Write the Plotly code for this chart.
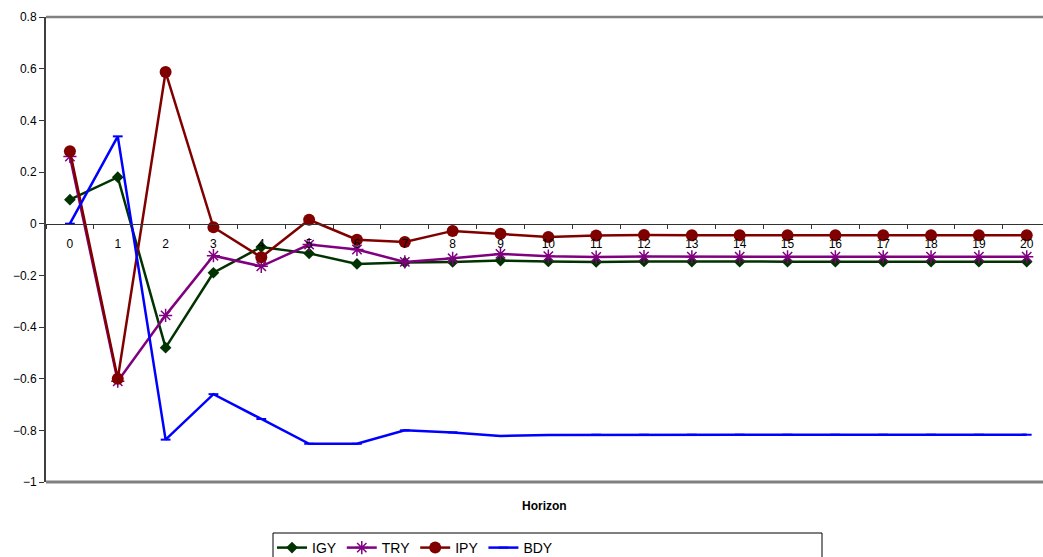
import plotly.graph_objects as go

horizon = [str(i) for i in range(21)]
igy = [0.093, 0.18, -0.48, -0.19, -0.09, -0.115, -0.156, -0.15, -0.148, -0.143, -0.146,
       -0.148, -0.146, -0.147, -0.147, -0.147, -0.147, -0.147, -0.147, -0.147, -0.147]
try_ = [0.26, -0.61, -0.355, -0.124, -0.165, -0.081, -0.10, -0.148, -0.134, -0.117, -0.126,
        -0.129, -0.127, -0.128, -0.128, -0.128, -0.128, -0.128, -0.128, -0.128, -0.128]
ipy = [0.28, -0.60, 0.587, -0.014, -0.13, 0.015, -0.062, -0.071, -0.028, -0.039, -0.052,
       -0.046, -0.044, -0.045, -0.045, -0.045, -0.045, -0.045, -0.045, -0.045, -0.045]
bdy = [0.0, 0.338, -0.836, -0.66, -0.756, -0.852, -0.852, -0.80, -0.808, -0.822, -0.818,
       -0.817, -0.817, -0.817, -0.817, -0.817, -0.817, -0.817, -0.817, -0.817, -0.817]

fig = go.Figure()
fig.add_trace(go.Scatter(x=horizon, y=igy, name="IGY", mode="lines+markers",
                         line=dict(color="#003300", width=2.5),
                         marker=dict(symbol="diamond", size=9, color="#003300")))
fig.add_trace(go.Scatter(x=horizon, y=try_, name="TRY", mode="lines+markers",
                         line=dict(color="#800080", width=2.5),
                         marker=dict(symbol="asterisk-open", size=11,
                                     line=dict(color="#800080", width=1.5))))
fig.add_trace(go.Scatter(x=horizon, y=ipy, name="IPY", mode="lines+markers",
                         line=dict(color="#800000", width=2.5),
                         marker=dict(symbol="circle", size=12, color="#800000")))
fig.add_trace(go.Scatter(x=horizon, y=bdy, name="BDY", mode="lines+markers",
                         line=dict(color="#0000FF", width=2.5),
                         marker=dict(symbol="line-ew-open", size=7,
                                     line=dict(color="#0000FF", width=2))))

font = dict(family="Liberation Sans, Arial, sans-serif", size=12, color="#000000")

fig.update_layout(
    width=1043, height=557,
    margin=dict(l=46, r=0, t=17, b=75, autoexpand=False),
    paper_bgcolor="white", plot_bgcolor="white",
    font=font,
    showlegend=True,
    legend=dict(orientation="h", xref="container", yref="container",
                x=272 / 1043, y=(557 - 532) / 557, xanchor="left", yanchor="top",
                font=dict(family="Liberation Sans, Arial, sans-serif", size=14),
                itemwidth=30, bgcolor="rgba(0,0,0,0)", tracegroupgap=0),
    xaxis=dict(type="category", range=[-0.5, 20.34], anchor="free",
               position=1.0 / 1.8, automargin=False,
               showline=True, linecolor="#333333", linewidth=1,
               ticks="outside", tickson="boundaries", ticklen=4, tickcolor="#333333",
               ticklabelstandoff=9,
               showgrid=False, zeroline=False, tickfont=font),
    yaxis=dict(range=[-1, 0.8], dtick=0.2, tick0=-1, showline=True, automargin=False,
               linecolor="#404040", linewidth=2, ticks="outside", ticklen=5,
               tickcolor="#333333", showgrid=False, zeroline=False, tickfont=font,
               tickformat="~g"),
)

fig.add_shape(type="line", xref="paper", yref="paper", x0=0, x1=1, y0=1, y1=1,
              line=dict(color="#808080", width=2.5))
fig.add_shape(type="line", xref="paper", yref="paper", x0=0, x1=1, y0=0, y1=0,
              line=dict(color="#808080", width=3))
fig.add_shape(type="rect", xref="paper", yref="paper",
              x0=(273 - 46) / 997, x1=(822 - 46) / 997,
              y0=-(533 - 482) / 465, y1=-(558 - 482) / 465,
              line=dict(color="#000000", width=1), fillcolor="rgba(0,0,0,0)")

fig.add_annotation(text="<b>Horizon</b>", xref="paper", yref="paper",
                   x=0.5, y=-(506 - 482) / 465, showarrow=False,
                   font=dict(family="Liberation Sans, Arial, sans-serif", size=12),
                   xanchor="center", yanchor="middle")

fig.write_html("out.html", config={"displayModeBar": False},
               post_script="document.body.style.margin='0';document.body.style.overflow='hidden';")
